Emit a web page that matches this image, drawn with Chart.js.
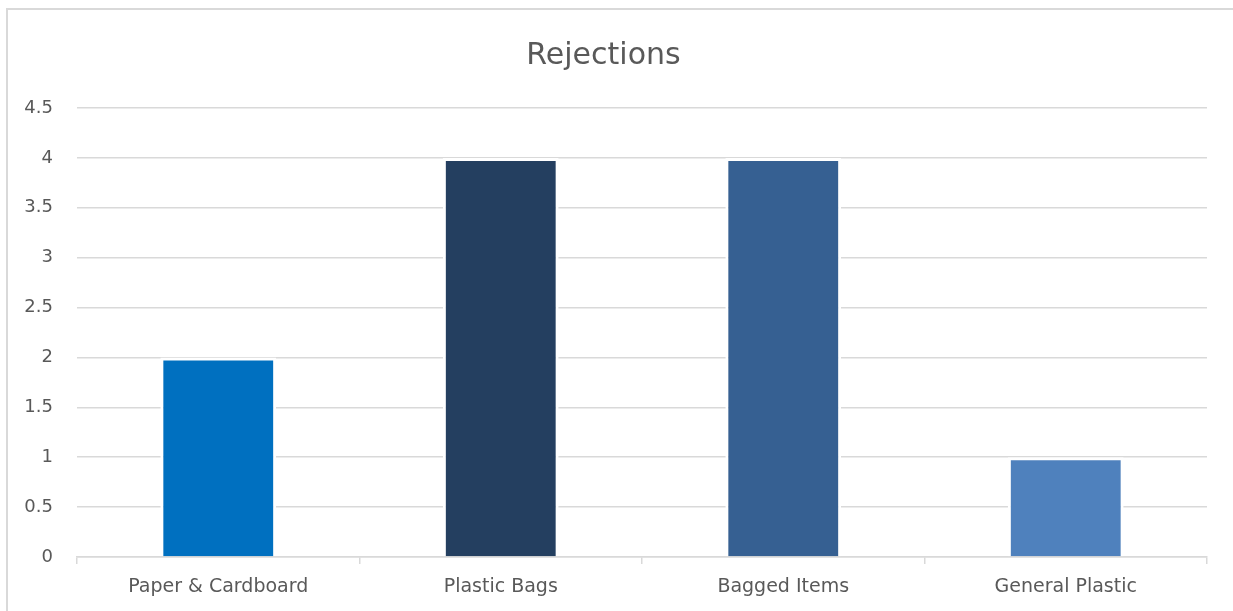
<!DOCTYPE html>
<html>
<head>
<meta charset="utf-8">
<script src="https://cdn.jsdelivr.net/npm/chart.js@4"></script>
<style>
  html, body { margin: 0; padding: 0; background: #fff; overflow: hidden; }
  #frame {
    position: absolute; left: 6px; top: 8px; width: 1260px; height: 640px;
    border: 2px solid #d9d9d9; box-sizing: border-box;
  }
  #wrap { position: absolute; left: 0; top: 0; width: 1233px; height: 611px; }
</style>
</head>
<body>
<div id="frame"></div>
<div id="wrap"><canvas id="myChart"></canvas></div>
<script>
const categories = ['Paper & Cardboard', 'Plastic Bags', 'Bagged Items', 'General Plastic'];
const rejections = [2, 4, 4, 1];
const barColors = ['#0070C0', '#243F60', '#366092', '#4F81BD'];

const textColor = '#595959';
const lineColor = '#d9d9d9';
const fontFamily = '"DejaVu Sans", sans-serif';

const data = {
  labels: categories,
  datasets: [
    {
      label: 'Rejections',
      data: rejections,
      backgroundColor: barColors,
      borderColor: '#ffffff',
      borderWidth: 3,
      borderSkipped: 'bottom',
      categoryPercentage: 1,
      barPercentage: 0.41,
    },
  ],
};

const config = {
  type: 'bar',
  data: data,
  options: {
    responsive: true,
    maintainAspectRatio: false,
    animation: false,
    layout: { padding: { left: 0, right: 26, top: 0, bottom: 0 } },
    plugins: {
      legend: { display: false },
      tooltip: { enabled: false },
      title: {
        display: true,
        text: 'Rejections',
        color: textColor,
        font: { family: fontFamily, size: 30, weight: 'normal', lineHeight: 1.2 },
        padding: { top: 38, bottom: 34 },
      },
    },
    scales: {
      x: {
        grid: {
          drawOnChartArea: false,
          drawTicks: true,
          tickLength: 7,
          color: lineColor,
          lineWidth: 1.5,
        },
        border: { color: lineColor, width: 1.5 },
        ticks: {
          color: textColor,
          font: { family: fontFamily, size: 19 },
          padding: 12,
          maxRotation: 0,
        },
        afterFit: (scale) => { scale.height = 54; },
      },
      y: {
        min: 0,
        max: 4.5,
        ticks: {
          stepSize: 0.5,
          color: textColor,
          font: { family: fontFamily, size: 18 },
          padding: 24,
          callback: (value) => String(value),
        },
        grid: { color: lineColor, lineWidth: 1.5, drawTicks: false },
        border: { display: false },
        afterFit: (scale) => { scale.width = 77; },
      },
    },
  },
};

const myChart = new Chart(document.getElementById('myChart'), config);
</script>
</body>
</html>
